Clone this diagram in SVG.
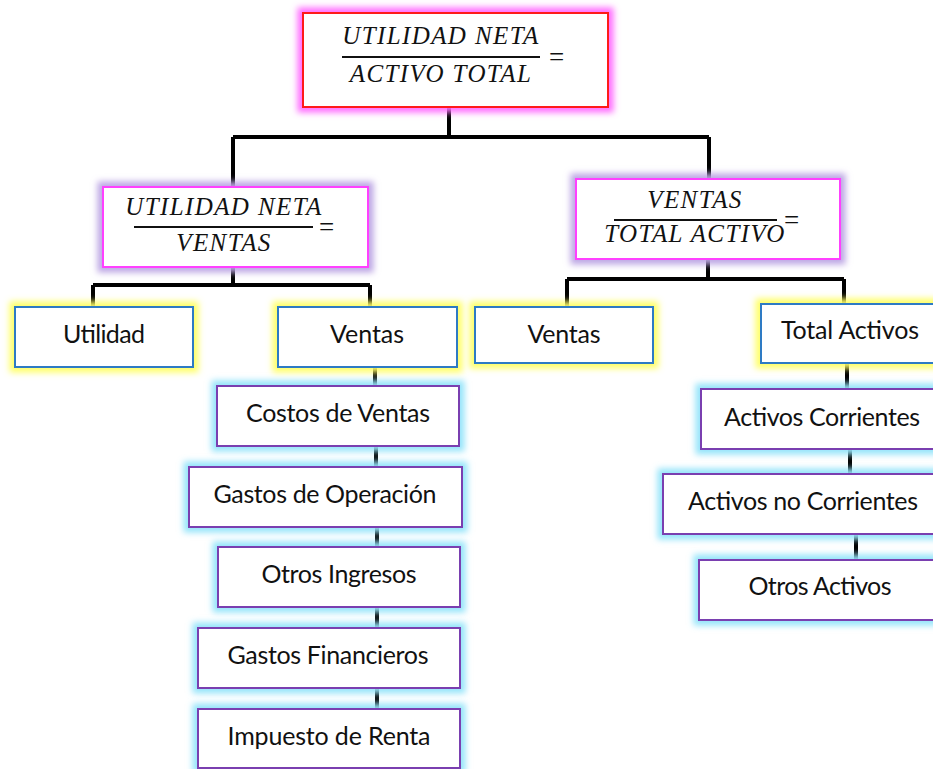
<svg xmlns="http://www.w3.org/2000/svg" width="933" height="769" viewBox="0 0 933 769">
<defs>
<filter id="blur" x="-20%" y="-40%" width="140%" height="180%"><feGaussianBlur stdDeviation="3.2"/></filter>
<style>
.box{fill:#fff;stroke-width:2}
.g{fill:none;stroke-width:11;filter:url(#blur)}
.gpink{stroke:#ff6cff}
.glav{stroke:#bca6e4}
.gyel{stroke:#ffff66}
.gblu{stroke:#94e4fa}
.sred{stroke:#ff1a1a}
.smag{stroke:#ff40ff}
.sblu{stroke:#2e7bc4}
.spur{stroke:#7a3fb0}
.t{font-family:Lato,"Open Sans","Noto Sans",sans-serif;font-size:25px;fill:#111;text-anchor:middle}
.m{font-family:"Liberation Serif","DejaVu Serif",serif;font-style:italic;font-size:25px;fill:#111;text-anchor:middle;letter-spacing:1.4px}
.eq{font-family:"Liberation Serif","DejaVu Serif",serif;font-size:27px;fill:#111}
.fl{stroke:#111;stroke-width:2}
.c{fill:none;stroke:#000;stroke-width:4}
</style>
</defs>

<g id="connectors">
<path class="c" d="M449 107V137M233 137H709M233 137V187M709 137V180"/>
<path class="c" d="M233 267V285M93 285H370M93 285V307M370 285V307"/>
<path class="c" d="M708 259V279M567 279H844M567 279V307M844 279V304"/>
<path class="c" d="M375 367V386M376 446V467M377 527V547M377 607V628M377 688V709"/>
<path class="c" d="M847 363V389M850 449V474M856 534V560"/>
</g>

<g id="n-top">
<rect class="g gpink" x="303" y="13" width="305" height="94"/>
<rect class="box sred" x="303" y="13" width="305" height="94"/>
<text class="m" x="441" y="44">UTILIDAD NETA</text>
<line class="fl" x1="342" y1="57" x2="540" y2="57"/>
<text class="m" x="441" y="82">ACTIVO TOTAL</text>
<text class="eq" x="549" y="66">=</text>
</g>

<g id="n-margin">
<rect class="g glav" x="103" y="187" width="265" height="80"/>
<rect class="box smag" x="103" y="187" width="265" height="80"/>
<text class="m" x="224" y="215">UTILIDAD NETA</text>
<line class="fl" x1="134" y1="227" x2="313" y2="227"/>
<text class="m" x="224" y="251">VENTAS</text>
<text class="eq" x="319" y="236">=</text>
</g>

<g id="n-rotacion">
<rect class="g glav" x="576" y="179" width="264" height="80"/>
<rect class="box smag" x="576" y="179" width="264" height="80"/>
<text class="m" x="695" y="208">VENTAS</text>
<line class="fl" x1="614" y1="220" x2="777" y2="220"/>
<text class="m" x="695" y="242">TOTAL ACTIVO</text>
<text class="eq" x="784" y="229">=</text>
</g>

<g id="n-utilidad">
<rect class="g gyel" x="15" y="307" width="178" height="60"/>
<rect class="box sblu" x="15" y="307" width="178" height="60"/>
<text class="t" x="104" y="343" textLength="82">Utilidad</text>
</g>

<g id="n-ventas-l">
<rect class="g gyel" x="278" y="307" width="179" height="60"/>
<rect class="box sblu" x="278" y="307" width="179" height="60"/>
<text class="t" x="367" y="343" textLength="74">Ventas</text>
</g>

<g id="n-ventas-r">
<rect class="g gyel" x="475" y="307" width="178" height="56"/>
<rect class="box sblu" x="475" y="307" width="178" height="56"/>
<text class="t" x="564" y="343" textLength="73">Ventas</text>
</g>

<g id="n-total-activos">
<rect class="g gyel" x="761" y="304" width="190" height="59"/>
<rect class="box sblu" x="761" y="304" width="190" height="59"/>
<text class="t" x="850" y="339" textLength="138">Total Activos</text>
</g>

<g id="n-costos">
<rect class="g gblu" x="217" y="386" width="242" height="60"/>
<rect class="box spur" x="217" y="386" width="242" height="60"/>
<text class="t" x="338" y="422" textLength="184">Costos de Ventas</text>
</g>

<g id="n-gastos-op">
<rect class="g gblu" x="189" y="467" width="273" height="60"/>
<rect class="box spur" x="189" y="467" width="273" height="60"/>
<text class="t" x="325" y="503" textLength="223">Gastos de Operación</text>
</g>

<g id="n-otros-ing">
<rect class="g gblu" x="218" y="547" width="242" height="60"/>
<rect class="box spur" x="218" y="547" width="242" height="60"/>
<text class="t" x="339" y="583" textLength="155">Otros Ingresos</text>
</g>

<g id="n-gastos-fin">
<rect class="g gblu" x="198" y="628" width="262" height="60"/>
<rect class="box spur" x="198" y="628" width="262" height="60"/>
<text class="t" x="328" y="664" textLength="201">Gastos Financieros</text>
</g>

<g id="n-impuesto">
<rect class="g gblu" x="198" y="709" width="262" height="59"/>
<rect class="box spur" x="198" y="709" width="262" height="59"/>
<text class="t" x="329" y="745" textLength="203">Impuesto de Renta</text>
</g>

<g id="n-act-corr">
<rect class="g gblu" x="701" y="389" width="250" height="60"/>
<rect class="box spur" x="701" y="389" width="250" height="60"/>
<text class="t" x="822" y="426" textLength="196">Activos Corrientes</text>
</g>

<g id="n-act-nocorr">
<rect class="g gblu" x="663" y="474" width="290" height="60"/>
<rect class="box spur" x="663" y="474" width="290" height="60"/>
<text class="t" x="803" y="510" textLength="230">Activos no Corrientes</text>
</g>

<g id="n-otros-act">
<rect class="g gblu" x="699" y="560" width="252" height="60"/>
<rect class="box spur" x="699" y="560" width="252" height="60"/>
<text class="t" x="820" y="595" textLength="143">Otros Activos</text>
</g>
</svg>
